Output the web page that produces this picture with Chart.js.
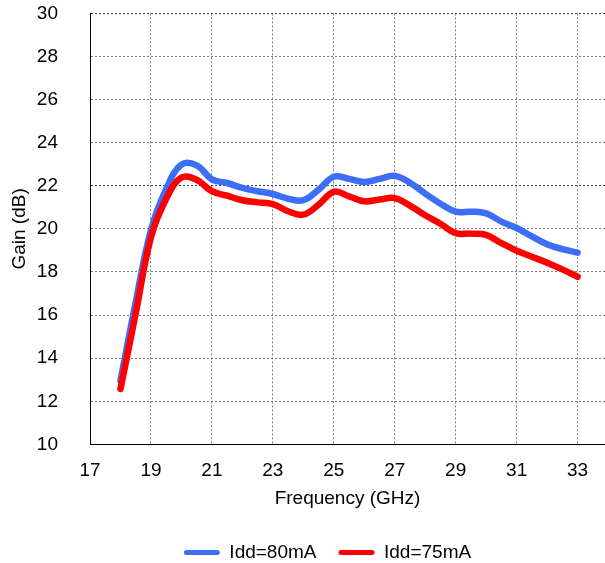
<!DOCTYPE html>
<html>
<head>
<meta charset="utf-8">
<title>Gain vs Frequency</title>
<script src="https://cdn.jsdelivr.net/npm/chart.js"></script>
<style>
  body{margin:0;background:#fff;}
  #wrap{width:605px;height:563px;}
</style>
</head>
<body>
<div id="wrap"><canvas id="chart"></canvas></div>
<script>
// measured gain, 0.5 GHz steps
const freq   = [18,18.5,19,19.5,20,20.5,21,21.5,22,22.5,23,23.5,24,24.5,25,25.5,26,26.5,27,27.5,28,28.5,29,29.5,30,30.5,31,31.5,32,32.5,33];
const gain80 = [12.95,16.6,19.95,21.85,22.98,22.95,22.3,22.13,21.9,21.75,21.62,21.4,21.33,21.82,22.42,22.32,22.18,22.32,22.46,22.14,21.64,21.17,20.8,20.8,20.72,20.34,20.04,19.65,19.29,19.06,18.9];
const gain75 = [12.57,16.07,19.6,21.4,22.38,22.28,21.75,21.54,21.33,21.23,21.15,20.82,20.66,21.12,21.72,21.51,21.28,21.36,21.43,21.08,20.63,20.24,19.8,19.78,19.72,19.34,18.99,18.71,18.43,18.12,17.78];

const xTicks = [17,19,21,23,25,27,29,31,33];
const yTicks = [10,12,14,16,18,20,22,24,26,28,30];

const FONT = "'Liberation Sans', Arial, sans-serif";
Chart.defaults.font.family = FONT;
Chart.defaults.font.size = 19;
Chart.defaults.color = "#000";

function pts(ys){
  return freq.map((f,i)=>({x:f,y:ys[i]}));
}

// nudge the legend a little right and down
const legendShift = {
  id:"legendShift",
  afterLayout(chart){
    const lg = chart.legend;
    lg.left += 25;
    lg.right += 25;
    lg.top += 9;
    lg.bottom += 9;
  }
};

new Chart(document.getElementById("chart"), {
  type:"line",
  data:{
    datasets:[
      {
        label:"Idd=80mA",
        data:pts(gain80),
        borderColor:"#3c6ef8",
        backgroundColor:"#3c6ef8",
        borderWidth:6.5,
        pointRadius:0,
        tension:0.4,
        borderCapStyle:"round",
        borderJoinStyle:"round",
        order:1
      },
      {
        label:"Idd=75mA",
        data:pts(gain75),
        borderColor:"#ff0000",
        backgroundColor:"#ff0000",
        borderWidth:6.5,
        pointRadius:0,
        tension:0.4,
        borderCapStyle:"round",
        borderJoinStyle:"round",
        order:0
      }
    ]
  },
  options:{
    responsive:true,
    maintainAspectRatio:false,
    animation:false,
    layout:{padding:{left:0,right:0,top:1,bottom:0}},
    plugins:{
      tooltip:{enabled:false},
      legend:{
        position:"bottom",
        labels:{
          boxWidth:36,
          boxHeight:5,
          useBorderRadius:true,
          borderRadius:2.5,
          padding:22,
          font:{size:19},
          sort:(a,b)=>a.datasetIndex-b.datasetIndex,
          generateLabels(chart){
            const items = Chart.defaults.plugins.legend.labels.generateLabels(chart);
            items.forEach(it=>{
              it.fillStyle = it.strokeStyle;
              it.lineWidth = 0;
            });
            return items;
          }
        }
      }
    },
    scales:{
      x:{
        type:"linear",
        min:17,
        max:33.9,
        afterBuildTicks(scale){
          scale.ticks = xTicks.map(v=>({value:v}));
        },
        border:{display:true,color:"#000",width:1,dash:[2,2]},
        grid:{
          color:"#7a7a7a",
          lineWidth:1,
          drawTicks:true,
          tickLength:14,
          tickColor:"rgba(0,0,0,0)"
        },
        ticks:{padding:1,font:{size:19},maxRotation:0},
        title:{display:true,text:"Frequency (GHz)",font:{size:19},padding:{top:4,bottom:2}}
      },
      y:{
        min:10,
        max:30,
        afterBuildTicks(scale){
          scale.ticks = yTicks.map(v=>({value:v}));
        },
        afterFit(scale){
          scale.width = 90;
        },
        border:{display:true,color:"#000",width:1,dash:[2,2]},
        grid:{
          color:(c)=>(c.tick && (c.tick.value===30 || c.tick.value===22)) ? "#3a3a3a" : "#7a7a7a",
          lineWidth:1,
          drawTicks:true,
          tickLength:30,
          tickColor:"rgba(0,0,0,0)"
        },
        ticks:{padding:2,font:{size:19}},
        title:{display:true,text:"Gain (dB)",font:{size:19},padding:{top:8,bottom:0}}
      }
    }
  },
  plugins:[legendShift]
});
</script>
</body>
</html>
